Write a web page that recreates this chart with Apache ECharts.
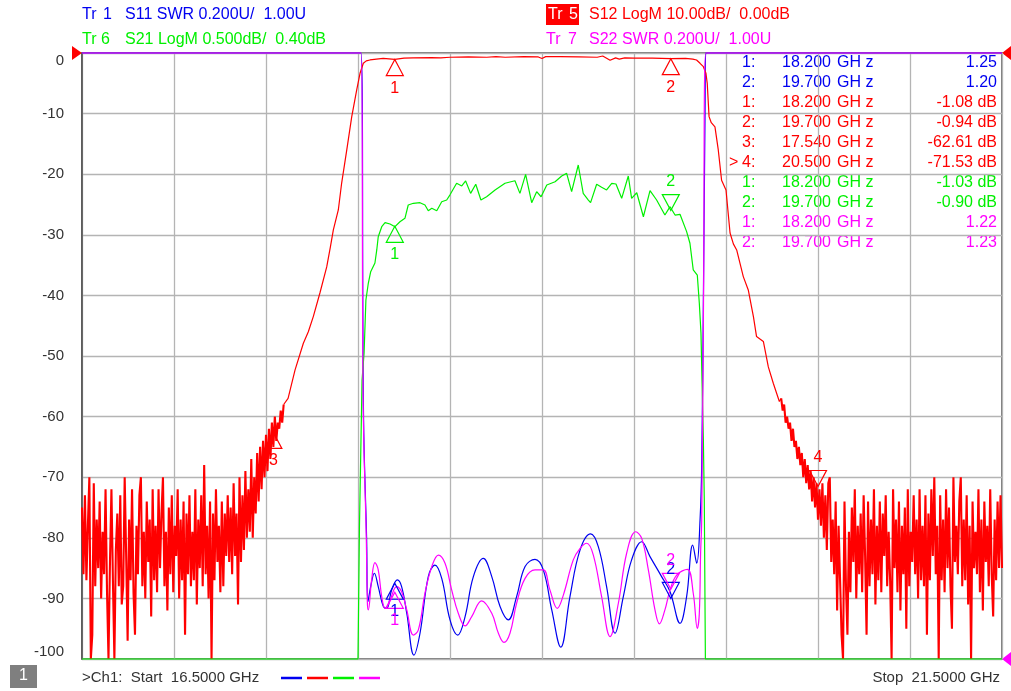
<!DOCTYPE html>
<html>
<head>
<meta charset="utf-8">
<script src="https://cdn.jsdelivr.net/npm/echarts@6/dist/echarts.min.js"></script>
<style>html,body{margin:0;padding:0;background:#fff}#chart{width:1011px;height:691px}</style>
</head>
<body>
<div id="chart"></div>
<script>
var BLUE = '#0000f0', RED = '#ff0000', GREEN = '#00f000', MAGENTA = '#ff00ff';
var FONT = '"Liberation Sans", Arial, sans-serif';

// S12 LogM (dB), noisy stop bands sampled every 8 MHz
var s12LeftStart = 16.5, s12Step = 0.008;
var s12Left = [
  -75, -86, -73, -87, -78, -70, -100, -96, -71, -88,
  -77, -85, -74, -90, -79, -86, -72, -89, -100, -84,
  -72, -87, -100, -82, -76, -88, -73, -91, -88, -70,
  -83, -97, -77, -87, -72, -89, -96, -78, -86, -73,
  -70, -88, -79, -90, -74, -84, -77, -93, -72, -87,
  -78, -89, -72, -85, -76, -70, -88, -79, -92, -75,
  -86, -73, -89, -78, -83, -72, -90, -77, -87, -74,
  -96, -76, -86, -73, -88, -79, -87, -72, -91, -77,
  -85, -73, -88, -68, -86, -78, -90, -74, -100, -76,
  -87, -72, -84, -78, -89, -74, -88, -76, -83, -73,
  -84, -75, -86, -71, -83, -76, -91, -70, -84, -73,
  -82, -69, -80, -72, -79, -67, -80, -70, -76, -66,
  -74, -65, -72, -64, -70, -63, -69, -62, -67, -61,
  -65, -60, -64, -61, -62, -59, -61, -58
];
var s12Mid = [
  [17.620, -57.0], [17.658, -52.3], [17.703, -47.9], [17.730, -46.0], [17.757, -43.5],
  [17.793, -39.6], [17.830, -35.3], [17.850, -32.0], [17.866, -29.2], [17.893, -25.9],
  [17.911, -21.5], [17.939, -16.0], [17.966, -10.5], [17.993, -6.1], [18.011, -3.35],
  [18.029, -1.7], [18.045, -1.3], [18.065, -1.15], [18.100, -1.0], [18.137, -0.9],
  [18.200, -1.05], [18.250, -0.85], [18.300, -0.8], [18.400, -0.75], [18.450, -0.8],
  [18.500, -0.7], [18.600, -0.65], [18.700, -0.7], [18.750, -0.6], [18.800, -0.7],
  [18.900, -0.6], [18.980, -0.65], [19.000, -0.9], [19.020, -0.6], [19.100, -0.6],
  [19.200, -0.65], [19.300, -0.7], [19.330, -0.5], [19.370, -1.2], [19.400, -0.8],
  [19.420, -1.0], [19.450, -0.8], [19.500, -0.85], [19.600, -0.85], [19.700, -0.94],
  [19.780, -0.9], [19.820, -1.0], [19.840, -1.15], [19.859, -1.7], [19.877, -2.26],
  [19.891, -3.35], [19.898, -5.0], [19.908, -10.5], [19.920, -11.5], [19.940, -12.2],
  [19.958, -16.0], [19.976, -21.0], [20.000, -22.6], [20.022, -29.7], [20.040, -31.5],
  [20.058, -32.5], [20.094, -36.9], [20.121, -39.1], [20.149, -43.5], [20.166, -46.8],
  [20.203, -47.6], [20.230, -51.8], [20.257, -54.5], [20.290, -57.5]
];
var s12RightStart = 20.30;
var s12Right = [
  -57, -59, -58, -61, -60, -62, -61, -64, -62, -65,
  -64, -67, -65, -68, -66, -70, -67, -71, -68, -72,
  -69, -74, -70, -75, -71, -77, -72, -78, -71, -80,
  -73, -82, -71, -70, -84, -77, -86, -74, -92, -78,
  -87, -96, -100, -74, -88, -96, -79, -89, -75, -84,
  -72, -90, -78, -86, -76, -89, -73, -83, -96, -74,
  -88, -77, -86, -72, -91, -78, -87, -74, -89, -76,
  -83, -73, -88, -79, -87, -100, -72, -85, -77, -89,
  -74, -92, -78, -86, -75, -95, -72, -88, -79, -84,
  -73, -86, -77, -90, -72, -87, -78, -88, -73, -96,
  -76, -87, -72, -83, -70, -86, -78, -100, -73, -87,
  -77, -89, -72, -85, -75, -88, -95, -70, -84, -78,
  -86, -74, -70, -88, -77, -87, -73, -91, -78, -100,
  -74, -85, -79, -86, -72, -89, -77, -92, -74, -84,
  -78, -88, -72, -86, -93, -77, -87, -74, -85, -73, -85
];

// S21 LogM (dB), off-scale values held at the bottom edge (-4.6 dB)
var s21 = [
  [16.5, -4.6], [18.0, -4.6], [18.008, -3.5], [18.022, -2.3], [18.033, -2.075], [18.043, -1.638],
  [18.056, -1.50], [18.069, -1.404], [18.092, -1.333], [18.102, -1.225], [18.110, -1.116],
  [18.129, -1.033], [18.147, -1.0], [18.174, -1.011], [18.201, -1.033], [18.228, -0.992],
  [18.255, -0.964], [18.273, -0.854], [18.301, -0.840], [18.337, -0.835], [18.364, -0.854],
  [18.382, -0.901], [18.401, -0.881], [18.428, -0.901], [18.455, -0.827], [18.482, -0.813],
  [18.5, -0.77], [18.536, -0.675], [18.564, -0.697], [18.585, -0.656], [18.612, -0.758],
  [18.640, -0.683], [18.668, -0.813], [18.699, -0.786], [18.745, -0.730], [18.799, -0.675],
  [18.853, -0.654], [18.880, -0.758], [18.911, -0.601], [18.944, -0.835], [18.971, -0.744],
  [18.995, -0.786], [19.026, -0.689], [19.071, -0.662], [19.107, -0.615], [19.134, -0.593],
  [19.161, -0.744], [19.197, -0.524], [19.224, -0.758], [19.252, -0.813], [19.264, -0.835],
  [19.297, -0.683], [19.324, -0.708], [19.351, -0.730], [19.379, -0.675], [19.402, -0.681],
  [19.433, -0.799], [19.469, -0.615], [19.487, -0.799], [19.515, -0.753], [19.551, -0.951],
  [19.587, -0.736], [19.623, -0.813], [19.668, -0.937], [19.696, -0.868], [19.723, -0.937],
  [19.750, -0.931], [19.786, -1.074], [19.804, -1.170], [19.822, -1.390], [19.844, -1.432],
  [19.855, -1.665], [19.864, -1.912], [19.870, -2.325], [19.877, -2.793], [19.882, -3.288],
  [19.888, -4.6], [21.5, -4.6]
];

// S11 / S22 SWR, off-scale values held at the top edge (3.00)
var s11 = [
  [16.5, 3.0], [18.016, 3.0], [18.030, 1.8], [18.047, 1.393], [18.054, 1.189], [18.069, 1.239],
  [18.089, 1.283], [18.110, 1.239], [18.138, 1.173], [18.156, 1.167], [18.183, 1.228],
  [18.214, 1.261], [18.237, 1.239], [18.265, 1.151], [18.304, 1.013], [18.337, 1.085],
  [18.382, 1.272], [18.418, 1.310], [18.455, 1.266], [18.5, 1.129], [18.542, 1.079],
  [18.582, 1.140], [18.627, 1.272], [18.681, 1.332], [18.727, 1.272], [18.772, 1.173],
  [18.817, 1.129], [18.862, 1.206], [18.908, 1.305], [18.962, 1.329], [19.007, 1.294],
  [19.053, 1.162], [19.102, 1.039], [19.152, 1.206], [19.207, 1.360], [19.264, 1.413],
  [19.306, 1.371], [19.351, 1.239], [19.397, 1.085], [19.442, 1.206], [19.487, 1.327],
  [19.542, 1.387], [19.587, 1.338], [19.650, 1.272], [19.696, 1.222], [19.750, 1.118],
  [19.786, 1.206], [19.819, 1.376], [19.841, 1.316], [19.859, 1.459], [19.868, 1.64],
  [19.878, 2.25], [19.886, 2.8], [19.890, 3.0], [21.5, 3.0]
];
var s22 = [
  [16.5, 3.0], [18.017, 3.0], [18.028, 1.85], [18.045, 1.40], [18.051, 1.184], [18.056, 1.162],
  [18.074, 1.261], [18.092, 1.318], [18.110, 1.294], [18.129, 1.206], [18.147, 1.167],
  [18.174, 1.195], [18.210, 1.239], [18.237, 1.222], [18.265, 1.162], [18.301, 1.079],
  [18.328, 1.096], [18.364, 1.217], [18.401, 1.305], [18.437, 1.343], [18.473, 1.316],
  [18.509, 1.228], [18.545, 1.151], [18.582, 1.109], [18.618, 1.140], [18.672, 1.192],
  [18.727, 1.151], [18.763, 1.085], [18.793, 1.055], [18.826, 1.085], [18.862, 1.184],
  [18.908, 1.266], [18.962, 1.294], [19.007, 1.294], [19.043, 1.228], [19.083, 1.167],
  [19.116, 1.211], [19.170, 1.327], [19.207, 1.365], [19.243, 1.382], [19.279, 1.343],
  [19.324, 1.206], [19.370, 1.074], [19.415, 1.184], [19.460, 1.349], [19.509, 1.420],
  [19.542, 1.398], [19.578, 1.294], [19.614, 1.162], [19.638, 1.116], [19.668, 1.162],
  [19.696, 1.228], [19.732, 1.277], [19.790, 1.296], [19.822, 1.217], [19.844, 1.101],
  [19.855, 1.151], [19.862, 1.349], [19.868, 1.459], [19.878, 2.2], [19.890, 3.0], [21.5, 3.0]
];

// markers: [label, GHz, value, pointing down]
var s11Markers = [['1', 18.2, 1.25, false], ['2', 19.7, 1.20, true]];
var s12Markers = [['1', 18.2, -1.08, false], ['2', 19.7, -0.94, false], ['3', 17.54, -62.61, false], ['4', 20.5, -71.53, true]];
var s21Markers = [['1', 18.2, -1.03, false], ['2', 19.7, -0.90, true]];
var s22Markers = [['1', 18.2, 1.22, false], ['2', 19.7, 1.23, true]];

var markerTable = [
  ['', '1:', '18.200', '1.25', BLUE],
  ['', '2:', '19.700', '1.20', BLUE],
  ['', '1:', '18.200', '-1.08 dB', RED],
  ['', '2:', '19.700', '-0.94 dB', RED],
  ['', '3:', '17.540', '-62.61 dB', RED],
  ['>', '4:', '20.500', '-71.53 dB', RED],
  ['', '1:', '18.200', '-1.03 dB', GREEN],
  ['', '2:', '19.700', '-0.90 dB', GREEN],
  ['', '1:', '18.200', '1.22', MAGENTA],
  ['', '2:', '19.700', '1.23', MAGENTA]
];

// the S12 trace is drawn in three pieces so the dense stop-band noise can use a heavier stroke
var s12NoiseL = s12Left.map(function(v, i) { return [s12LeftStart + i * s12Step, v]; });
var s12NoiseR = s12Right.map(function(v, i) { return [s12RightStart + i * s12Step, v]; });
var s12Core = [s12NoiseL[s12NoiseL.length - 1]].concat(s12Mid, [s12NoiseR[0]]);

function markPoints(list, color) {
  return {
    silent: true,
    animation: false,
    data: list.map(function(m) {
      var down = m[3];
      return {
        coord: [m[1], m[2]],
        symbol: down ? 'path://M0,0L17,0L8.5,16Z' : 'path://M8.5,0L17,16L0,16Z',
        symbolSize: [17, 16],
        symbolOffset: [0, down ? -8 : 8],
        itemStyle: { color: 'rgba(0,0,0,0)', borderColor: color, borderWidth: 1.2 },
        label: { show: true, formatter: m[0], position: down ? 'top' : 'bottom', distance: 4, color: color, fontSize: 16, fontFamily: FONT }
      };
    })
  };
}

function trace(name, data, yIdx, color, smooth, marks, width) {
  var s = {
    name: name, type: 'line', data: data, yAxisIndex: yIdx,
    showSymbol: false, smooth: smooth, clip: false,
    sampling: false, animation: false,
    lineStyle: { color: color, width: width || 1.2 }
  };
  if (marks) s.markPoint = markPoints(marks, color);
  return s;
}

var graphics = [];
function txt(x, y, s, color, align, size) {
  graphics.push({ type: 'text', silent: true, style: { x: x, y: y, text: s, fill: color, font: (size || 16) + 'px ' + FONT, align: align || 'left', verticalAlign: 'middle' } });
}

// header lines
txt(82, 15, 'Tr', BLUE); txt(103, 15, '1', BLUE); txt(125, 15, 'S11 SWR 0.200U/  1.00U', BLUE);
txt(82, 40, 'Tr', GREEN); txt(101, 40, '6', GREEN); txt(125, 40, 'S21 LogM 0.500dB/  0.40dB', GREEN);
graphics.push({ type: 'rect', silent: true, shape: { x: 546, y: 4, width: 33, height: 21 }, style: { fill: RED } });
txt(548, 15, 'Tr', '#ffffff'); txt(569, 15, '5', '#ffffff'); txt(589, 15, 'S12 LogM 10.00dB/  0.00dB', RED);
txt(546, 40, 'Tr', MAGENTA); txt(568, 40, '7', MAGENTA); txt(589, 40, 'S22 SWR 0.200U/  1.00U', MAGENTA);

// marker table
markerTable.forEach(function(r, i) {
  var y = 63 + i * 20;
  if (r[0]) txt(729, y, r[0], r[4]);
  txt(742, y, r[1], r[4]);
  txt(782, y, r[2], r[4]);
  txt(837, y, 'GH z', r[4]);
  txt(997, y, r[3], r[4], 'right');
});

// reference position arrows
graphics.push({ type: 'polygon', silent: true, shape: { points: [[72, 46], [82, 53], [72, 60]] }, style: { fill: RED } });
graphics.push({ type: 'polygon', silent: true, shape: { points: [[1011, 46], [1002, 53], [1011, 60]] }, style: { fill: RED } });
graphics.push({ type: 'polygon', silent: true, shape: { points: [[1011, 652], [1002, 659], [1011, 666]] }, style: { fill: MAGENTA } });

// footer
graphics.push({ type: 'rect', silent: true, shape: { x: 10, y: 665, width: 27, height: 23 }, style: { fill: '#7f7f7f' } });
txt(23.5, 676, '1', '#ffffff', 'center');
txt(82, 678, '>Ch1:  Start  16.5000 GHz', '#333333', 'left', 15);
txt(1000, 678, 'Stop  21.5000 GHz', '#333333', 'right', 15);
[[281, BLUE], [307, RED], [333, GREEN], [359, MAGENTA]].forEach(function(d) {
  graphics.push({ type: 'line', silent: true, shape: { x1: d[0], y1: 678, x2: d[0] + 21, y2: 678 }, style: { stroke: d[1], lineWidth: 2.5 } });
});

var chart = echarts.init(document.getElementById('chart'), null, { renderer: 'canvas' });
chart.setOption({
  animation: false,
  backgroundColor: '#ffffff',
  grid: { left: 82, right: 9, top: 53, bottom: 32, show: true, borderColor: '#505050', borderWidth: 1.5 },
  xAxis: {
    type: 'value', min: 16.5, max: 21.5, interval: 0.5,
    axisLine: { show: false }, axisTick: { show: false }, axisLabel: { show: false },
    splitLine: { show: true, lineStyle: { color: '#b4b4b4', width: 1.3 } }
  },
  yAxis: [
    {
      type: 'value', min: -100, max: 0, interval: 10,
      axisLine: { show: true, lineStyle: { color: '#505050', width: 1.5 } }, axisTick: { show: false },
      axisLabel: { color: '#333333', fontSize: 15, fontFamily: FONT, margin: 18, verticalAlignMaxLabel: 'top', verticalAlignMinLabel: 'bottom' },
      splitLine: { show: true, lineStyle: { color: '#b4b4b4', width: 1.3 } }
    },
    { type: 'value', min: -4.6, max: 0.4, show: false, splitLine: { show: false } },
    { type: 'value', min: 1.0, max: 3.0, show: false, splitLine: { show: false } }
  ],
  series: [
    trace('S11', s11, 2, BLUE, 0.4, s11Markers),
    trace('S12 low', s12NoiseL, 0, RED, false, null, 2.1),
    trace('S12', s12Core, 0, RED, false, s12Markers),
    trace('S12 high', s12NoiseR, 0, RED, false, null, 2.1),
    trace('S21', s21, 1, GREEN, false, s21Markers),
    trace('S22', s22, 2, MAGENTA, 0.4, s22Markers)
  ],
  graphic: graphics
});
</script>
</body>
</html>
